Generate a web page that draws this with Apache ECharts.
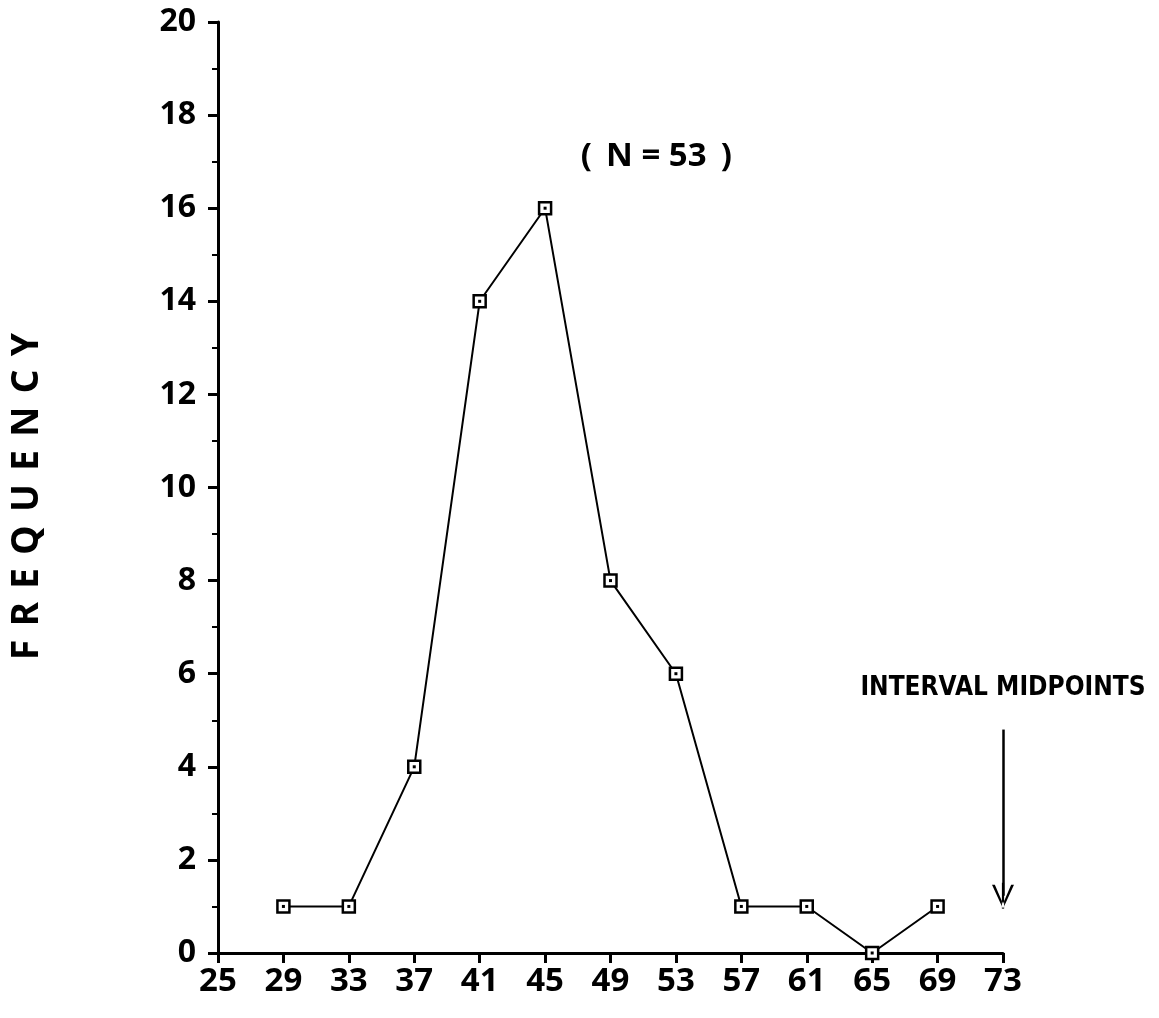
<!DOCTYPE html>
<html><head><meta charset="utf-8">
<script src="https://cdn.jsdelivr.net/npm/echarts@6/dist/echarts.min.js"></script>
<style>html,body{margin:0;padding:0;background:#fff}#c{width:1159px;height:1018px}</style>
</head><body><div id="c"></div>
<script>
const midpoints = [29, 33, 37, 41, 45, 49, 53, 57, 61, 65, 69];
const frequency = [1, 1, 4, 14, 16, 8, 6, 1, 1, 0, 1];
const xTicks = [25, 29, 33, 37, 41, 45, 49, 53, 57, 61, 65, 69, 73];
const yTicks = [0, 2, 4, 6, 8, 10, 12, 14, 16, 18, 20];
const arrowFrom = [73, 4.8];
const arrowTo = [73, 1.23];
const noteN = '( \u2009N = 53 \u2009)';
const noteN_pos = [51.8, 17.1];
const noteMid = 'INTERVAL MIDPOINTS';
const noteMid_pos = [73, 5.69];
const yName = ['F', 'R', 'E', 'Q', 'U', 'E', 'N', 'C', 'Y'].join(' \u200A');

const pts = midpoints.map((m, i) => [m, frequency[i]]);
const font = '"Noto Sans", "DejaVu Sans", sans-serif';
const chart = echarts.init(document.getElementById('c'));
chart.setOption({
  animation: false,
  backgroundColor: '#fff',
  grid: { left: 218, right: 156, top: 22, bottom: 65 },
  xAxis: {
    type: 'value', min: 25, max: 73, interval: 4,
    axisLine: { show: true, onZero: false, lineStyle: { color: '#000', width: 3 } },
    axisTick: { show: true, inside: false, length: 10, lineStyle: { color: '#000', width: 3 } },
    axisLabel: { color: '#000', fontSize: 33, fontWeight: 'bold', fontFamily: font, margin: 12 },
    splitLine: { show: false }
  },
  yAxis: {
    type: 'value', min: 0, max: 20, interval: 2,
    name: yName,
    nameLocation: 'middle', nameRotate: 90, nameGap: 172,
    nameTextStyle: { color: '#000', fontSize: 37, fontWeight: 'bold', fontFamily: font, padding: [0, 18, 0, 0] },
    axisLine: { show: true, lineStyle: { color: '#000', width: 3 } },
    axisTick: { show: true, length: 10, lineStyle: { color: '#000', width: 3 } },
    minorTick: { show: true, splitNumber: 2, length: 6, lineStyle: { color: '#000', width: 2 } },
    axisLabel: { color: '#000', fontSize: 32, fontWeight: 'bold', fontFamily: font, margin: 22 },
    splitLine: { show: false }
  },
  series: [
    {
      type: 'line', data: pts, clip: false,
      lineStyle: { color: '#000', width: 2 },
      symbol: 'rect', symbolSize: 12,
      itemStyle: { color: '#fff', borderColor: '#000', borderWidth: 2.5 },
      z: 3,
      markLine: {
        silent: true, animation: false,
        symbol: ['none', 'path://M10,0 L0,24 L2.6,24 L10,5 L17.4,24 L20,24 Z M9,0 L11,0 L11,26 L9,26 Z'],
        symbolSize: [22, 26],
        label: { show: false },
        lineStyle: { color: '#000', width: 2.5, type: 'solid' },
        data: [[{ coord: arrowFrom }, { coord: arrowTo }]]
      }
    },
    {
      type: 'scatter', data: pts, symbol: 'rect', symbolSize: 3,
      itemStyle: { color: '#000', opacity: 1 }, z: 4, silent: true
    },
    {
      type: 'scatter', symbolSize: 0, silent: true, clip: false,
      itemStyle: { opacity: 1 },
      data: [
        { value: noteN_pos, label: { show: true, formatter: noteN, position: 'inside', color: '#000', fontSize: 33, fontWeight: 'bold', fontFamily: font } },
        { value: noteMid_pos, label: { show: true, formatter: noteMid, position: 'inside', color: '#000', fontSize: 26, fontWeight: 'bold', fontFamily: '"DejaVu Sans Condensed", "DejaVu Sans", sans-serif' } }
      ]
    }
  ]
});
</script></body></html>
